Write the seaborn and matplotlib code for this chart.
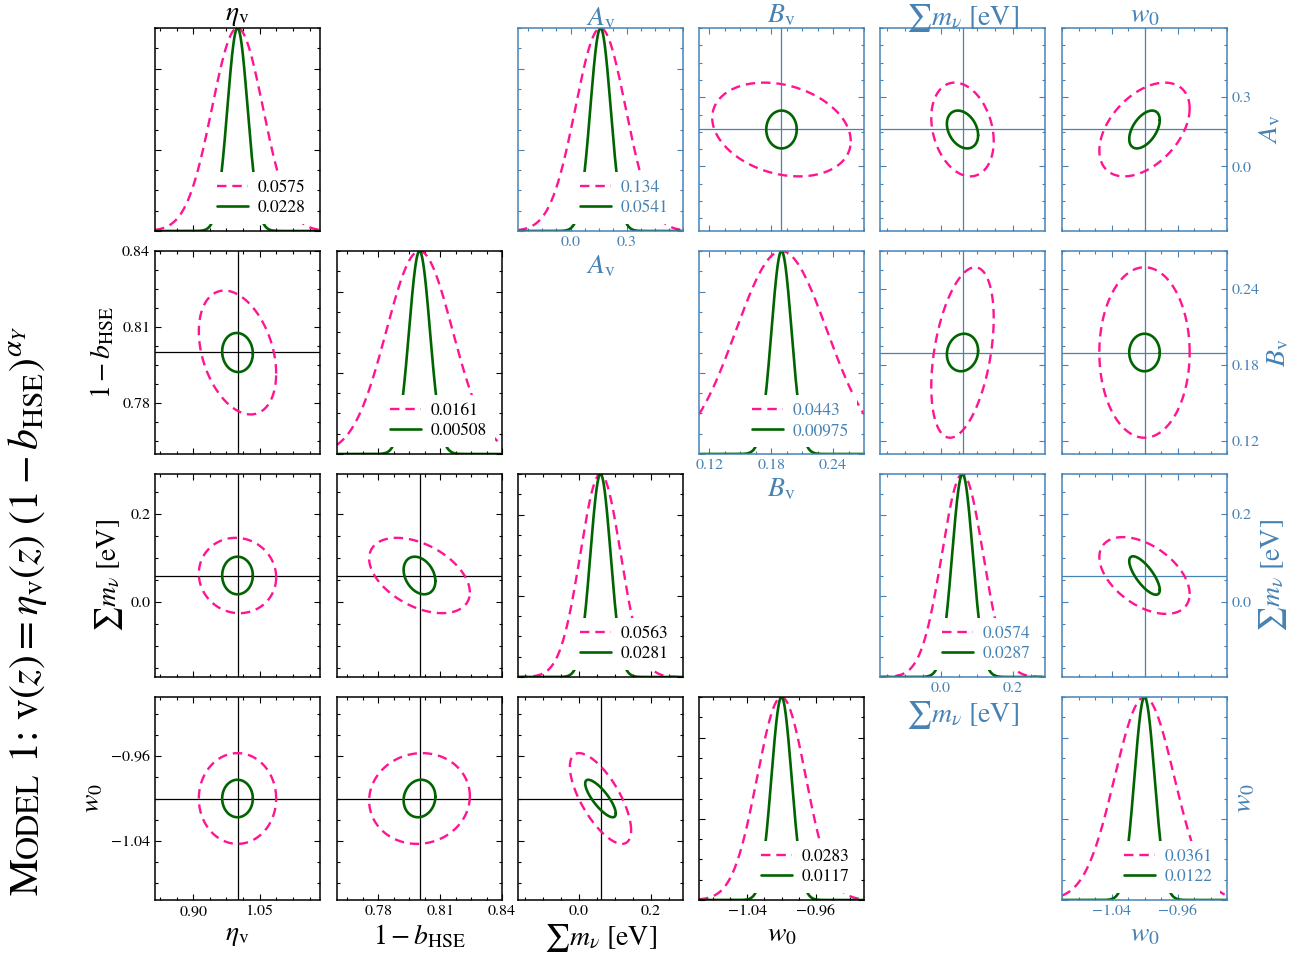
import numpy as np
import matplotlib
matplotlib.use("Agg")
import matplotlib.pyplot as plt
from matplotlib.ticker import AutoMinorLocator
import seaborn as sns

# ---------------- left block (black): eta_v, 1-b_HSE, sum m_nu, w0 ----------------
left_params = [r"$\eta_{\rm v}$", r"$1-b_{\rm HSE}$",
               r"$\sum m_{\nu}\ [\mathrm{eV}]$", r"$w_0$"]
left_fiducial = [1.0, 0.80, 0.06, -1.0]
left_range = [(0.814, 1.186), (0.76, 0.84), (-0.17, 0.29), (-1.096, -0.904)]
left_ticks = [[0.90, 1.05], [0.78, 0.81, 0.84], [0.0, 0.2], [-1.04, -0.96]]
left_tick_labels = [["0.90", "1.05"], ["0.78", "0.81", "0.84"],
                    ["0.0", "0.2"], ["\u22121.04", "\u22120.96"]]
left_sigma_dashed = [0.0575, 0.0161, 0.0563, 0.0283]
left_sigma_solid = [0.0228, 0.00508, 0.0281, 0.0117]
# correlation coefficients keyed by (y parameter, x parameter)
left_corr_dashed = {(1, 0): -0.34, (2, 0): -0.05, (2, 1): -0.45,
                    (3, 0): 0.0, (3, 1): 0.05, (3, 2): -0.70}
left_corr_solid = {(1, 0): -0.05, (2, 0): 0.0, (2, 1): -0.30,
                   (3, 0): 0.0, (3, 1): 0.10, (3, 2): -0.80}

# ---------------- right block (blue): A_v, B_v, sum m_nu, w0 ----------------
right_params = [r"$A_{\rm v}$", r"$B_{\rm v}$",
                r"$\sum m_{\nu}\ [\mathrm{eV}]$", r"$w_0$"]
right_fiducial = [0.16, 0.19, 0.06, -1.0]
right_range = [(-0.28, 0.60), (0.11, 0.27), (-0.17, 0.29), (-1.10, -0.90)]
right_ticks = [[0.0, 0.3], [0.12, 0.18, 0.24], [0.0, 0.2], [-1.04, -0.96]]
right_tick_labels = [["0.0", "0.3"], ["0.12", "0.18", "0.24"],
                     ["0.0", "0.2"], ["\u22121.04", "\u22120.96"]]
right_sigma_dashed = [0.134, 0.0443, 0.0574, 0.0361]
right_sigma_solid = [0.0541, 0.00975, 0.0287, 0.0122]
right_corr_dashed = {(0, 1): -0.25, (0, 2): -0.25, (0, 3): 0.45,
                     (1, 2): 0.40, (1, 3): 0.0, (2, 3): -0.48}
right_corr_solid = {(0, 1): 0.0, (0, 2): -0.30, (0, 3): 0.50,
                    (1, 2): 0.10, (1, 3): 0.0, (2, 3): -0.75}

# ---------------- style ----------------
sns.set_theme(style="white")
plt.rcParams.update({
    "font.family": ["STIXGeneral", "DejaVu Serif"],
    "mathtext.fontset": "stix",
    "axes.unicode_minus": True,
})

PINK, GREEN, BLUE, BLACK = "#ff1493", "#006400", "#4682b4", "black"
FIG_W, FIG_H = 1307, 960
COL_X = [155, 337, 518, 699, 880, 1062]
ROW_Y = [28, 251, 474, 697]
PW, PH = 165, 203
LABEL_FS, TICK_FS, LEG_FS = 20, 11.5, 12.5
DASH_LW, SOLID_LW, DASHES = 1.7, 1.9, (4.0, 2.5)
K68 = 2.30  # delta chi^2 of the 68% region for two parameters

fig = plt.figure(figsize=(FIG_W / 100, FIG_H / 100), dpi=100)
tall_titles = []


def make_axes(r, c, color):
    ax = fig.add_axes([COL_X[c] / FIG_W, 1 - (ROW_Y[r] + PH) / FIG_H,
                       PW / FIG_W, PH / FIG_H])
    ax.set_facecolor("white")
    for sp in ax.spines.values():
        sp.set_color(color)
        sp.set_linewidth(1.1)
    ax.tick_params(which="both", direction="in", top=True, bottom=True,
                   left=True, right=True, color=color, labelcolor=color,
                   labelsize=TICK_FS, width=0.8, labelbottom=False,
                   labelleft=False, labelright=False, labeltop=False)
    ax.tick_params(which="major", length=4.5)
    ax.tick_params(which="minor", length=2.5)
    return ax


def set_ticks(axis, ticks, labels):
    axis.set_ticks(ticks, labels=labels)
    axis.set_minor_locator(AutoMinorLocator(4))


def draw_1d(ax, mu, rng, s_dash, s_solid, color):
    x = np.linspace(rng[0], rng[1], 800)
    sns.lineplot(x=x, y=np.exp(-0.5 * ((x - mu) / s_dash) ** 2), ax=ax,
                 color=PINK, lw=DASH_LW, linestyle="--")
    ax.lines[-1].set_dashes(DASHES)
    sns.lineplot(x=x, y=np.exp(-0.5 * ((x - mu) / s_solid) ** 2), ax=ax,
                 color=GREEN, lw=SOLID_LW)
    lines = ax.get_lines()[-2:]
    ax.legend(lines, [f"{s_dash:g}", f"{s_solid:g}"], loc="lower right",
              frameon=True, facecolor="white", edgecolor="none",
              framealpha=1, fancybox=False, fontsize=LEG_FS,
              handlelength=1.8, handletextpad=0.55, labelspacing=0.22,
              borderpad=0.45, borderaxespad=0.4, labelcolor=color)
    ax.set_xlim(*rng)
    ax.set_ylim(0, 1)
    ax.set_yticks([0.0, 0.4, 0.8])
    ax.yaxis.set_minor_locator(AutoMinorLocator(4))


def ellipse(mx, my, sx, sy, rho, n=400):
    t = np.linspace(0, 2 * np.pi, n)
    cov = np.array([[sx * sx, rho * sx * sy], [rho * sx * sy, sy * sy]])
    pts = np.linalg.cholesky(cov) @ np.vstack([np.cos(t), np.sin(t)])
    pts *= np.sqrt(K68)
    return mx + pts[0], my + pts[1]


def draw_2d(ax, mx, my, sxd, syd, rd, sxs, sys_, rs, color):
    ax.axvline(mx, color=color, lw=0.9, zorder=1)
    ax.axhline(my, color=color, lw=0.9, zorder=1)
    ex, ey = ellipse(mx, my, sxd, syd, rd)
    sns.lineplot(x=ex, y=ey, ax=ax, sort=False, estimator=None,
                 color=PINK, lw=DASH_LW, linestyle="--")
    ax.lines[-1].set_dashes(DASHES)
    ex, ey = ellipse(mx, my, sxs, sys_, rs)
    sns.lineplot(x=ex, y=ey, ax=ax, sort=False, estimator=None,
                 color=GREEN, lw=SOLID_LW)


def put_xlabel(ax, text, color):
    ax.set_xlabel(text, fontsize=LABEL_FS, color=color, labelpad=3)
    ax.xaxis.label.set_visible(True)


def put_ylabel(ax, text, color):
    ax.set_ylabel(text, fontsize=LABEL_FS, color=color)
    ax.yaxis.label.set_visible(True)


def put_title(ax, text, color):
    if r"\sum" in text:
        # fixed position so it can be nudged down after layout
        t = ax.set_title(text, fontsize=LABEL_FS, color=color, y=1.0, pad=2)
        tall_titles.append(t)
    else:
        ax.set_title(text, fontsize=LABEL_FS, color=color, pad=2)


# ---------------- left triangle ----------------
for i in range(4):
    for j in range(i + 1):
        ax = make_axes(i, j, BLACK)
        if i == j:
            draw_1d(ax, left_fiducial[j], left_range[j],
                    left_sigma_dashed[j], left_sigma_solid[j], BLACK)
        else:
            draw_2d(ax, left_fiducial[j], left_fiducial[i],
                    left_sigma_dashed[j], left_sigma_dashed[i],
                    left_corr_dashed[(i, j)],
                    left_sigma_solid[j], left_sigma_solid[i],
                    left_corr_solid[(i, j)], BLACK)
            ax.set_xlim(*left_range[j])
            ax.set_ylim(*left_range[i])
            set_ticks(ax.yaxis, left_ticks[i], left_tick_labels[i])
        set_ticks(ax.xaxis, left_ticks[j], left_tick_labels[j])
        ax.set_xlabel("")
        ax.set_ylabel("")
        if i == 3:
            ax.tick_params(labelbottom=True)
            put_xlabel(ax, left_params[j], BLACK)
        if j == 0 and i > 0:
            ax.tick_params(labelleft=True)
            put_ylabel(ax, left_params[i], BLACK)
        if i == 0 and j == 0:
            put_title(ax, left_params[0], BLACK)

# ---------------- right triangle ----------------
for i in range(4):
    for j in range(i, 4):
        ax = make_axes(i, j + 2, BLUE)
        if i == j:
            draw_1d(ax, right_fiducial[j], right_range[j],
                    right_sigma_dashed[j], right_sigma_solid[j], BLUE)
        else:
            draw_2d(ax, right_fiducial[j], right_fiducial[i],
                    right_sigma_dashed[j], right_sigma_dashed[i],
                    right_corr_dashed[(i, j)],
                    right_sigma_solid[j], right_sigma_solid[i],
                    right_corr_solid[(i, j)], BLUE)
            ax.set_xlim(*right_range[j])
            ax.set_ylim(*right_range[i])
            set_ticks(ax.yaxis, right_ticks[i], right_tick_labels[i])
        set_ticks(ax.xaxis, right_ticks[j], right_tick_labels[j])
        ax.set_xlabel("")
        ax.set_ylabel("")
        if i == j:
            ax.tick_params(labelbottom=True)
            put_xlabel(ax, right_params[j], BLUE)
        if j == 3:
            ax.yaxis.set_label_position("right")
            put_ylabel(ax, right_params[i], BLUE)
            if i != j:
                ax.tick_params(labelright=True)
        if i == 0:
            put_title(ax, right_params[j], BLUE)

# ---------------- model label with small capitals ----------------
renderer = fig.canvas.get_renderer()
pieces = [("M", 30), ("ODEL", 23),
          (r" 1: $\mathrm{v}(z) = \eta_{\rm v}(z)\ (1-b_{\rm HSE})^{\alpha_{Y}}$", 30)]
base_x, y_px = 38, 65
for txt, fs in pieces:
    t = fig.text(base_x / FIG_W, y_px / FIG_H, txt, fontsize=fs, rotation=90,
                 rotation_mode="anchor", ha="left", va="baseline", color=BLACK)
    y_px += t.get_window_extent(renderer).height

# the summation sign makes that column title tall: keep it inside the canvas
fig.canvas.draw()
for t in tall_titles:
    bb = t.get_window_extent(renderer)
    if bb.y1 > FIG_H - 1:
        t.set_y(1.0 - (bb.y1 - (FIG_H - 1)) / PH)

fig.savefig("out.png", dpi=100, facecolor="white")
